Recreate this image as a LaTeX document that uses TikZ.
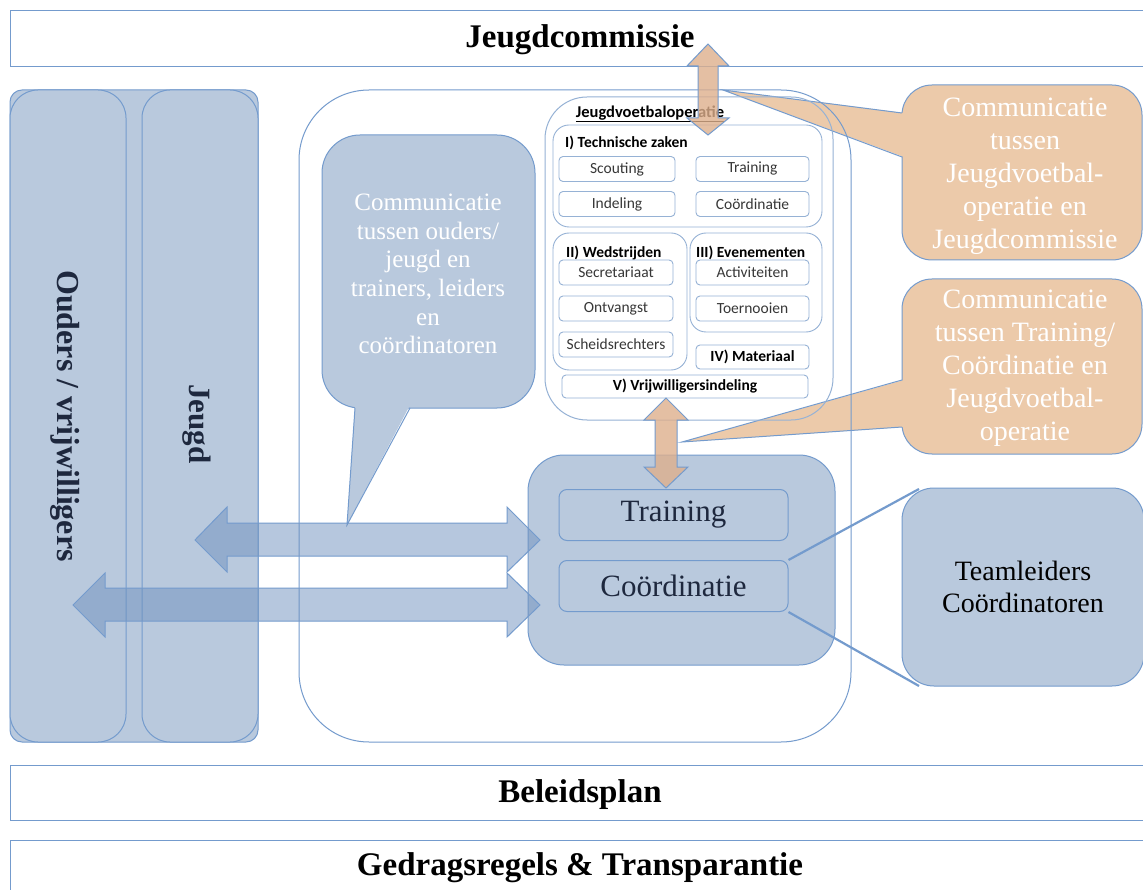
\documentclass[tikz,border=0pt]{standalone}
\usepackage{fontspec}
\setmainfont{Liberation Serif}
\newfontfamily\calfont{Carlito}
\definecolor{lineblue}{RGB}{116,155,205}
\definecolor{panelblue}{RGB}{185,201,221}
\definecolor{boxline}{RGB}{150,178,213}
\definecolor{arrowblue}{RGB}{110,145,190}
\definecolor{orfill}{RGB}{236,202,170}
\definecolor{orarrow}{RGB}{222,175,140}
\definecolor{navy}{RGB}{30,40,62}
\definecolor{smalltext}{RGB}{55,55,55}
\begin{document}
\begin{tikzpicture}[x=1pt,y=-1pt,
  banner/.style={draw=lineblue, line width=1.2pt, fill=white, inner sep=0, font=\fontsize{33}{40}\selectfont\bfseries},
  panel/.style={draw=lineblue, line width=1pt, fill=panelblue, inner sep=0},
  sbox/.style={draw=boxline, line width=0.9pt, fill=white, rounded corners=4, inner sep=0, minimum height=25, font=\calfont\fontsize{15.5}{17}\selectfont, text=smalltext},
  grp/.style={draw=boxline, line width=0.9pt, rounded corners=16, inner sep=0},
  glabel/.style={anchor=west, inner sep=0, font=\calfont\bfseries\fontsize{15.5}{17}\selectfont, text=black},
  barrow/.style={draw=lineblue, line width=1pt, fill=arrowblue, fill opacity=0.5},
  oarrow/.style={draw=lineblue, line width=1pt, fill=orarrow, fill opacity=0.8},
  callout/.style={draw=lineblue, line width=1pt, fill=orfill, rounded corners=30},
  bubble/.style={draw=lineblue, line width=1pt, fill=panelblue, rounded corners=38},
  conn/.style={draw=lineblue, line width=2.2pt},
  wtext/.style={align=center, text=white, inner sep=0}
]
\useasboundingbox (0,0) rectangle (1143,890);
\clip (0,0) rectangle (1143,890);
\fill[white] (0,0) rectangle (1143,890);

% banners
\node[banner, minimum width=1150, minimum height=56, anchor=north west] (jc) at (10,10) {};
\node[inner sep=0, font=\fontsize{33}{40}\selectfont\bfseries] (jct) at (580,40) {Jeugdcommissie};
\node[banner, minimum width=1150, minimum height=55, anchor=north west] (bp) at (10,765) {};
\node[inner sep=0, font=\fontsize{33}{40}\selectfont\bfseries] (bpt) at (580,795) {Beleidsplan};
\node[banner, minimum width=1150, minimum height=60, anchor=north west] (gr) at (10,840) {};
\node[inner sep=0, font=\fontsize{33}{40}\selectfont\bfseries] (grt) at (580,868) {Gedragsregels \& Transparantie};

% left panel
\node[panel, rounded corners=12, minimum width=248, minimum height=652] (lp) at (134,416) {};
\node[panel, rounded corners=28, minimum width=116, minimum height=652] (ouders) at (68,416) {};
\node[panel, rounded corners=28, minimum width=116, minimum height=652] (jeugd) at (200,416) {};
\node[rotate=-90, inner sep=0, text=navy, font=\fontsize{32}{36}\selectfont\bfseries] (oudt) at (65,416) {Ouders / vrijwilligers};
\node[rotate=-90, inner sep=0, text=navy, font=\fontsize{31}{36}\selectfont\bfseries] (jeugdt) at (197,424) {Jeugd};

% orange callouts
\draw[callout] (902,85) rectangle (1142,260);
\fill[orfill] (723,90) -- (904,113) -- (904,157) -- cycle;
\draw[draw=lineblue, line width=1pt] (902,113) -- (723,90) -- (902,157);
\node[wtext, font=\fontsize{28}{33}\selectfont] (c1t) at (1025,176) {Communicatie\\tussen\\Jeugdvoetbal-\\operatie en\\Jeugdcommissie};

\draw[callout] (902,279) rectangle (1142,454);
\fill[orfill] (682,442) -- (904,380) -- (904,427) -- cycle;
\draw[draw=lineblue, line width=1pt] (902,380) -- (682,442) -- (902,427);
\node[wtext, font=\fontsize{28}{33}\selectfont] (c2t) at (1025,368) {Communicatie\\tussen Training/\\Coördinatie en\\Jeugdvoetbal-\\operatie};

% big outline and Jeugdvoetbaloperatie
\node[draw=lineblue, line width=1pt, rounded corners=70, minimum width=552, minimum height=652, inner sep=0] (outer) at (575,416) {};
\node[draw=boxline, line width=1pt, rounded corners=42, minimum width=288, minimum height=323, inner sep=0] (jvo) at (689,258.5) {};
\node[inner sep=0, font=\calfont\bfseries\fontsize{16.5}{18}\selectfont] (jvot) at (650,114) {\underline{Jeugdvoetbaloperatie}};

\node[grp, minimum width=269, minimum height=102] (g1) at (687.5,176) {};
\node[grp, minimum width=134, minimum height=137] (g2) at (620,301.5) {};
\node[grp, minimum width=132, minimum height=99] (g3) at (756,282.5) {};
\node[glabel] (g1l) at (565,143) {I) Technische zaken};
\node[glabel] (g2l) at (566,253) {II) Wedstrijden};
\node[glabel] (g3l) at (696,253) {III) Evenementen};

\node[sbox, minimum width=116] (scout) at (617,169) {Scouting};
\node[sbox, minimum width=113] (train1) at (752.5,169) {Training};
\node[sbox, minimum width=116] (indel) at (617,204) {Indeling};
\node[sbox, minimum width=113] (coord1) at (752.5,204) {Coördinatie};
\node[sbox, minimum width=114] (secr) at (616,272.5) {Secretariaat};
\node[sbox, minimum width=114] (ontv) at (616,308.5) {Ontvangst};
\node[sbox, minimum width=114] (scheids) at (616,344.5) {Scheidsrechters};
\node[sbox, minimum width=113] (activ) at (752.5,272.5) {Activiteiten};
\node[sbox, minimum width=113] (toern) at (752.5,308.5) {Toernooien};
\node[sbox, minimum width=113, minimum height=24, font=\calfont\bfseries\fontsize{15.5}{17}\selectfont, text=black] (mat) at (752.5,357) {IV) Materiaal};
\node[sbox, minimum width=246, minimum height=23, font=\calfont\bfseries\fontsize{15.5}{17}\selectfont, text=black] (vrijw) at (685,386.5) {V) Vrijwilligersindeling};

% blue speech bubble
\draw[bubble] (322,135) rectangle (535,408);
\fill[panelblue] (355,405) -- (410,405) -- (347,525) -- cycle;
\draw[draw=lineblue, line width=1pt] (355,408) -- (347,525) -- (410,408);
\node[wtext, font=\fontsize{25}{28.6}\selectfont] (bubt) at (428,274) {Communicatie\\tussen ouders/\\jeugd en\\trainers, leiders\\en\\coördinatoren};

% training panel
\node[panel, rounded corners=36, minimum width=307, minimum height=210] (tpanel) at (681.5,560) {};
\node[panel, rounded corners=8, minimum width=229, minimum height=51, text=navy, font=\fontsize{31}{34}\selectfont] (trn) at (673.5,515) {Training};
\node[panel, rounded corners=8, minimum width=229, minimum height=51, text=navy, font=\fontsize{31}{34}\selectfont] (crd) at (673.5,586) {Coördinatie};

% teamleiders
\node[panel, rounded corners=32, minimum width=242, minimum height=198, align=center, text=black, font=\fontsize{28}{32}\selectfont] (team) at (1023,587) {Teamleiders\\Coördinatoren};
\coordinate (tl1) at (919,489);
\coordinate (tl2) at (919,686);
\draw[conn] (crd.north east) -- (tl1);
\draw[conn] (crd.south east) -- (tl2);

% blue double arrows
\draw[barrow] (195,540) -- (227,507) -- (227,523) -- (507,523) -- (507,507) -- (540,540) -- (507,572) -- (507,556) -- (227,556) -- (227,572) -- cycle;
\draw[barrow] (73,605) -- (105,573) -- (105,588) -- (507,588) -- (507,573) -- (540,605) -- (507,637) -- (507,621) -- (105,621) -- (105,637) -- cycle;

% orange double arrows
\draw[oarrow] (708,44) -- (729,66) -- (718,66) -- (718,118) -- (729,118) -- (708,135) -- (687,118) -- (698,118) -- (698,66) -- (687,66) -- cycle;
\draw[oarrow] (666,398) -- (688,420) -- (677,420) -- (677,467) -- (688,467) -- (666,488) -- (644,467) -- (655,467) -- (655,420) -- (644,420) -- cycle;
\end{tikzpicture}
\end{document}
